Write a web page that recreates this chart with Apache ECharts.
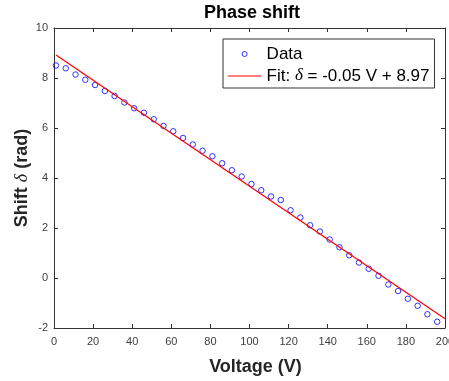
<!DOCTYPE html>
<html>
<head>
<meta charset="utf-8">
<script src="https://cdn.jsdelivr.net/npm/echarts@6/dist/echarts.min.js"></script>
<style>
  html, body { margin: 0; padding: 0; background: #fff; }
  #chart { width: 449px; height: 381px; }
</style>
</head>
<body>
<div id="chart"></div>
<script>
// Measured phase shift (rad) against applied voltage (V)
const voltage = [1, 6, 11, 16, 21, 26, 31, 36, 41, 46,
                 51, 56, 61, 66, 71, 76, 81, 86, 91, 96,
                 101, 106, 111, 116, 121, 126, 131, 136, 141, 146,
                 151, 156, 161, 166, 171, 176, 181, 186, 191, 196];
const shift = [8.50, 8.39, 8.14, 7.93, 7.72, 7.48, 7.28, 7.02, 6.79, 6.61,
               6.35, 6.08, 5.87, 5.60, 5.34, 5.09, 4.87, 4.59, 4.31, 4.06,
               3.76, 3.51, 3.26, 3.12, 2.71, 2.42, 2.11, 1.86, 1.54, 1.23,
               0.91, 0.62, 0.37, 0.09, -0.26, -0.52, -0.83, -1.11, -1.45, -1.75];

// Linear fit: delta = slope * V + intercept
const fitCoef = [-0.053, 8.97];
const fitRange = [1, 200];

// Axis ranges: [min, max, interval]
const xRange = [0, 200, 20];
const yRange = [-2, 10, 2];

const FONT = '"Liberation Sans", Arial, Helvetica, sans-serif';
const SERIF = '"Liberation Serif", "Times New Roman", serif';
const AXIS_COLOR = '#333333';
const DATA_COLOR = '#0000ff';
const FIT_COLOR = '#ff0000';

const scatterData = voltage.map((v, i) => [v, shift[i]]);
const fitData = fitRange.map(v => [v, fitCoef[0] * v + fitCoef[1]]);
const fitName = 'Fit: δ = ' + fitCoef[0].toFixed(2) + ' V + ' + fitCoef[1].toFixed(2);

function axisPair(range, isX) {
  const base = {
    type: 'value',
    min: range[0],
    max: range[1],
    interval: range[2],
    axisLine: { show: true, onZero: false, lineStyle: { color: AXIS_COLOR, width: 1 } },
    axisTick: { show: true, inside: true, length: 4, lineStyle: { color: AXIS_COLOR, width: 1 } },
    splitLine: { show: false },
    axisLabel: { show: false }
  };
  const main = Object.assign({}, base, {
    position: isX ? 'bottom' : 'left',
    axisLabel: {
      show: true,
      color: '#404040',
      fontSize: 11,
      fontFamily: FONT,
      margin: isX ? 8 : 6
    }
  });
  const mirror = Object.assign({}, base, { position: isX ? 'top' : 'right' });
  return [main, mirror];
}

const xAxes = axisPair(xRange, true);
xAxes[0].name = 'Voltage (V)';
xAxes[0].nameLocation = 'middle';
xAxes[0].nameGap = 30;
xAxes[0].nameTextStyle = {
  fontFamily: FONT, fontWeight: 'bold', fontSize: 18, color: '#262626',
  padding: [0, 0, 0, 12]
};

const yAxes = axisPair(yRange, false);
yAxes[0].name = '{b|Shift }{d|δ}{b| (rad)}';
yAxes[0].nameLocation = 'middle';
yAxes[0].nameMoveOverlap = false;
yAxes[0].nameGap = 23;
yAxes[0].nameTextStyle = {
  color: '#262626',
  rich: {
    b: { fontFamily: FONT, fontWeight: 'bold', fontSize: 18, color: '#262626' },
    d: { fontFamily: SERIF, fontStyle: 'italic', fontSize: 18, color: '#262626' }
  }
};

const chart = echarts.init(document.getElementById('chart'), null, { renderer: 'canvas' });

chart.setOption({
  animation: false,
  backgroundColor: '#ffffff',
  grid: { left: 54, right: 4, top: 28, bottom: 53, containLabel: false, outerBoundsMode: 'none' },
  graphic: [{
    type: 'text',
    x: 252,
    y: 13,
    style: {
      text: 'Phase shift',
      fill: '#000000',
      font: 'bold 18px ' + FONT,
      textAlign: 'center',
      textVerticalAlign: 'middle'
    }
  }],
  legend: {
    orient: 'vertical',
    left: 223,
    top: 39,
    padding: [6, 5, 3, 4],
    itemWidth: 34,
    itemHeight: 5,
    itemGap: 4,
    backgroundColor: '#ffffff',
    borderColor: AXIS_COLOR,
    borderWidth: 1,
    data: [
      {
        name: 'Data',
        icon: 'circle',
        itemStyle: { color: 'rgba(0,0,0,0)', borderColor: DATA_COLOR, borderWidth: 1 }
      },
      {
        name: fitName,
        itemStyle: { color: 'rgba(0,0,0,0)', borderColor: 'rgba(0,0,0,0)', borderWidth: 0, opacity: 0 },
        lineStyle: { color: FIT_COLOR, width: 1.2 }
      }
    ],
    formatter: name => name.replace('δ', '{i|δ}'),
    textStyle: {
      fontFamily: FONT,
      fontSize: 17,
      lineHeight: 18,
      color: '#000000',
      rich: {
        i: {
          fontFamily: SERIF,
          fontStyle: 'italic',
          fontSize: 17,
          lineHeight: 18,
          color: '#000000'
        }
      }
    }
  },
  xAxis: xAxes,
  yAxis: yAxes,
  series: [
    {
      name: 'Data',
      type: 'scatter',
      data: scatterData,
      symbol: 'circle',
      symbolSize: 5.5,
      itemStyle: { color: 'rgba(0,0,0,0)', borderColor: DATA_COLOR, borderWidth: 1 },
      emphasis: { disabled: true },
      z: 2
    },
    {
      name: fitName,
      type: 'line',
      data: fitData,
      symbol: 'none',
      lineStyle: { color: FIT_COLOR, width: 1.2 },
      emphasis: { disabled: true },
      z: 3
    }
  ]
});
</script>
</body>
</html>
